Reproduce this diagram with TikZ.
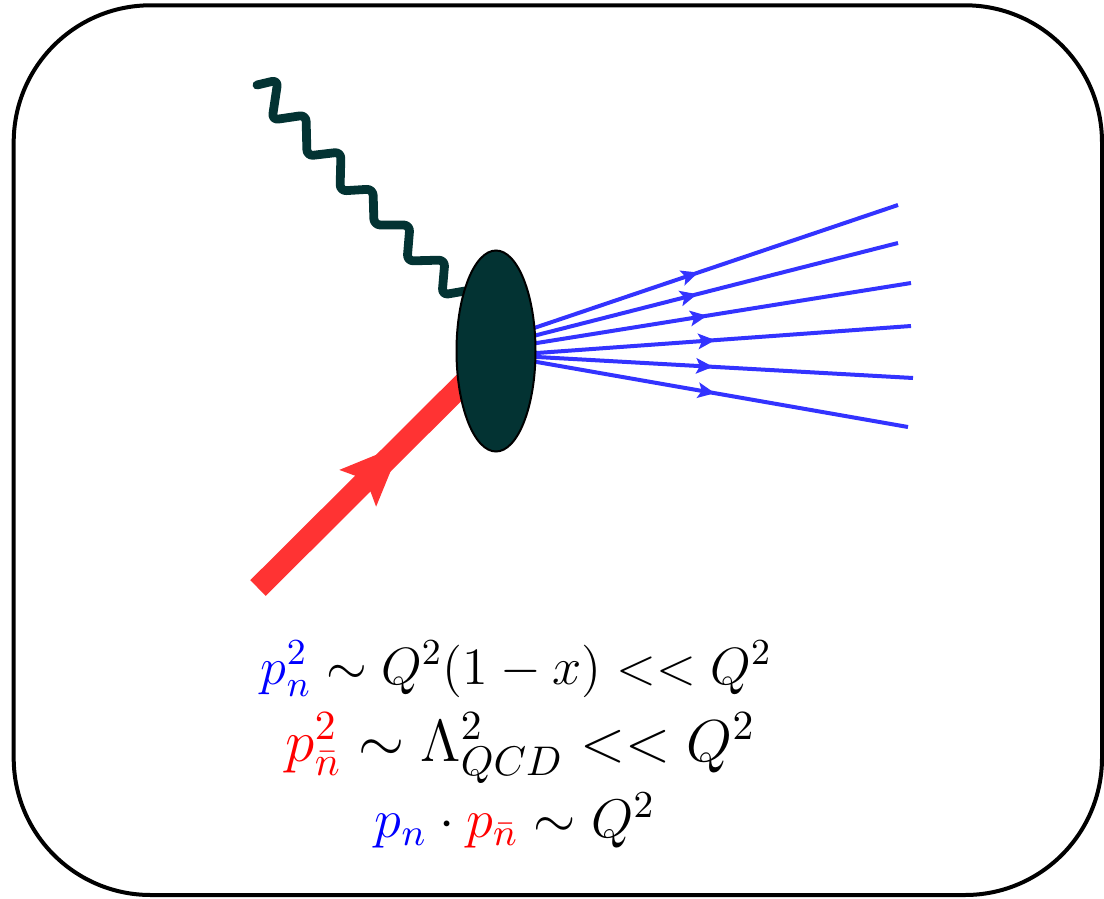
\RequirePackage{fix-cm}
\documentclass[tikz,border=0pt]{standalone}
\usetikzlibrary{arrows.meta,decorations.markings,shapes.geometric,backgrounds}
\definecolor{blobcol}{RGB}{3,51,51}
\definecolor{jetblue}{RGB}{51,51,255}
\definecolor{beamred}{RGB}{255,51,51}
\begin{document}
\begin{tikzpicture}[x=0.25pt,y=-0.25pt,
  frame/.style={draw=black,line width=1pt,rounded corners=34.25pt},
  blobstyle/.style={ellipse,draw=black,line width=0.5pt,fill=blobcol,minimum width=19.75pt,minimum height=50.25pt,inner sep=0pt},
  photon/.style={draw=blobcol,line width=2.2pt,rounded corners=1.6pt,line cap=round,line join=round},
  jet/.style={draw=jetblue,line width=1pt},
  midarrow/.style={postaction={decorate},decoration={markings,mark=at position #1 with {\arrow{Stealth[length=4.3pt,width=4pt,inset=1pt,line width=0pt]}}}},
  beam/.style={draw=beamred,line width=5.5pt},
  eq/.style={anchor=base,inner sep=0pt}]
\useasboundingbox (0,0) rectangle (1104,899);
\draw[frame] (13.7,5.3) rectangle (1102,895);

\node[blobstyle] (blob) at (496,351) {};

\coordinate (rs) at (258,588);
\coordinate (ws) at (257,85);
\coordinate (we) at (465,291);
\coordinate (j1s) at (530,329.4); \coordinate (j1e) at (898,205);
\coordinate (j2s) at (530,336.8); \coordinate (j2e) at (898,243);
\coordinate (j3s) at (530,344.1); \coordinate (j3e) at (911,283);
\coordinate (j4s) at (530,353.5); \coordinate (j4e) at (911,326);
\coordinate (j5s) at (530,356.6); \coordinate (j5e) at (913,378);
\coordinate (j6s) at (530,360.8); \coordinate (j6e) at (908,427);

\begin{scope}[on background layer]
  \draw[beam] (rs) -- (blob.center);
  \fill[beamred] (401.5,444.5) -- (339.3,469.9) -- (366.2,479.8) -- (376.1,506.7) -- cycle;
  \draw[photon] (ws) -- (278,80) -- (272,120) -- (306,115) -- (307,156) -- (341,152) -- (340,191)
     -- (373,189) -- (374,225) -- (410,225) -- (407,261) -- (445,260) -- (442,295) -- (we);
  \draw[jet,midarrow=0.457] (j1s) -- (j1e);
  \draw[jet,midarrow=0.454] (j2s) -- (j2e);
  \draw[jet,midarrow=0.465] (j3s) -- (j3e);
  \draw[jet,midarrow=0.486] (j4s) -- (j4e);
  \draw[jet,midarrow=0.478] (j5s) -- (j5e);
  \draw[jet,midarrow=0.489] (j6s) -- (j6e);
\end{scope}

\node[eq,font=\fontsize{13.1}{16}\selectfont] (eq1) at (516.5,684) {$\textcolor{blue}{p_n^2}\sim Q^2(1-x)<<Q^2$};
\node[eq,font=\fontsize{14.8}{18}\selectfont] (eq2) at (520.5,761) {$\textcolor{red}{p_{\bar n}^2}\sim\Lambda_{QCD}^2<<Q^2$};
\node[eq,font=\fontsize{13.6}{16}\selectfont] (eq3) at (515,837) {$\textcolor{blue}{p_n}\cdot\textcolor{red}{p_{\bar n}}\sim Q^2$};
\end{tikzpicture}
\end{document}
